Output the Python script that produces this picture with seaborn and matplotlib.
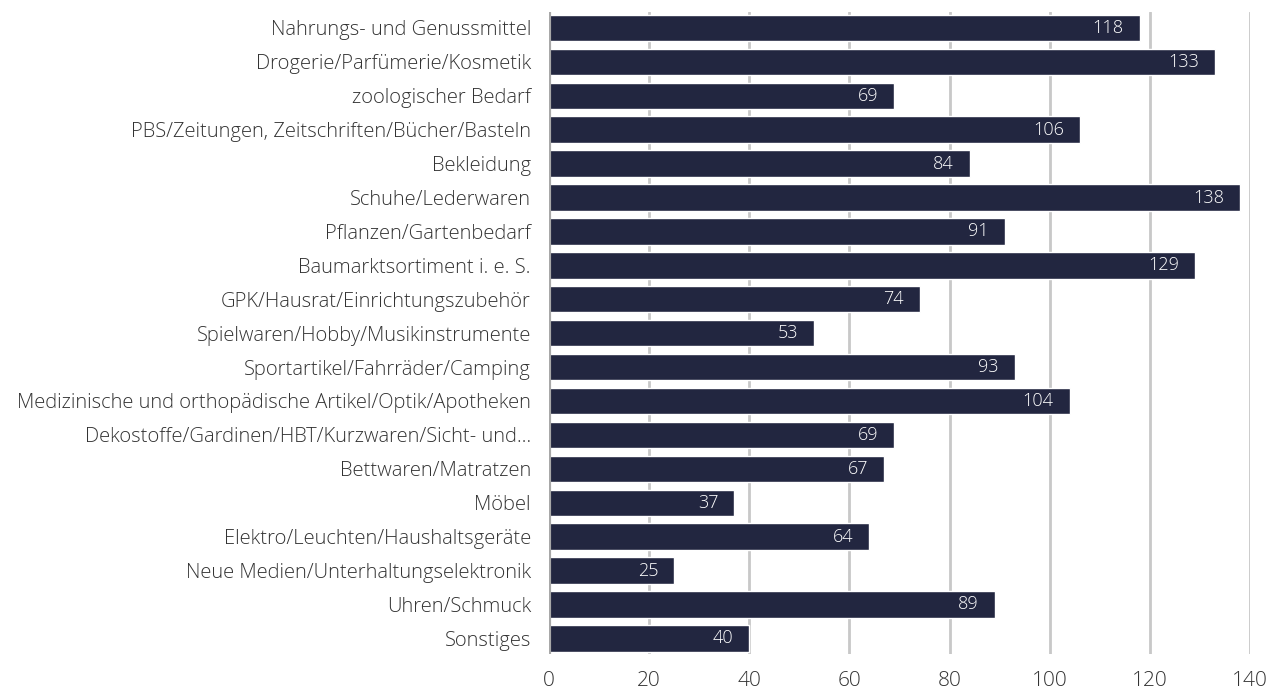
import matplotlib
matplotlib.use("Agg")
import matplotlib.pyplot as plt
import seaborn as sns
import pandas as pd

categories = [
    "Nahrungs- und Genussmittel",
    "Drogerie/Parfümerie/Kosmetik",
    "zoologischer Bedarf",
    "PBS/Zeitungen, Zeitschriften/Bücher/Basteln",
    "Bekleidung",
    "Schuhe/Lederwaren",
    "Pflanzen/Gartenbedarf",
    "Baumarktsortiment i. e. S.",
    "GPK/Hausrat/Einrichtungszubehör",
    "Spielwaren/Hobby/Musikinstrumente",
    "Sportartikel/Fahrräder/Camping",
    "Medizinische und orthopädische Artikel/Optik/Apotheken",
    "Dekostoffe/Gardinen/HBT/Kurzwaren/Sicht- und…",
    "Bettwaren/Matratzen",
    "Möbel",
    "Elektro/Leuchten/Haushaltsgeräte",
    "Neue Medien/Unterhaltungselektronik",
    "Uhren/Schmuck",
    "Sonstiges",
]
values = [118, 133, 69, 106, 84, 138, 91, 129, 74, 53, 93, 104, 69, 67, 37, 64, 25, 89, 40]
xticks = [0, 20, 40, 60, 80, 100, 120, 140]

sns.set_theme(style="white")
plt.rcParams["font.family"] = ["Open Sans", "DejaVu Sans"]
plt.rcParams["font.weight"] = "light"

df = pd.DataFrame({"cat": categories, "val": values})

fig = plt.figure(figsize=(12.81, 6.95), dpi=100)
ax = fig.add_axes([549 / 1281, (695 - 654) / 695, 701 / 1281, 642 / 695])

bar_color = "#222640"
sns.barplot(data=df, y="cat", x="val", orient="h", color=bar_color,
            saturation=1, width=0.78, ax=ax, zorder=3)

ax.set_xlim(0, 140)
ax.set_ylim(len(categories) - 1 + 0.46, -0.47)
ax.set_xticks(xticks)
ax.set_xticklabels([str(t) for t in xticks], fontsize=15, color="#333333")
ax.tick_params(axis="y", labelsize=14.5, colors="#333333", length=0, pad=13)
ax.tick_params(axis="x", length=0, pad=12)
ax.set_xlabel("")
ax.set_ylabel("")

for s in ax.spines.values():
    s.set_visible(False)

ax.grid(axis="x", color="#c8c8c8", linewidth=2, zorder=0)
ax.grid(axis="y", visible=False)
ax.axvline(0, color="#a8a8a8", linewidth=3, zorder=4)

for i, v in enumerate(values):
    ax.text(v - 3.2, i, str(v), ha="right", va="center", color="white",
            fontsize=13, zorder=5)

fig.savefig("out.png", dpi=100)
